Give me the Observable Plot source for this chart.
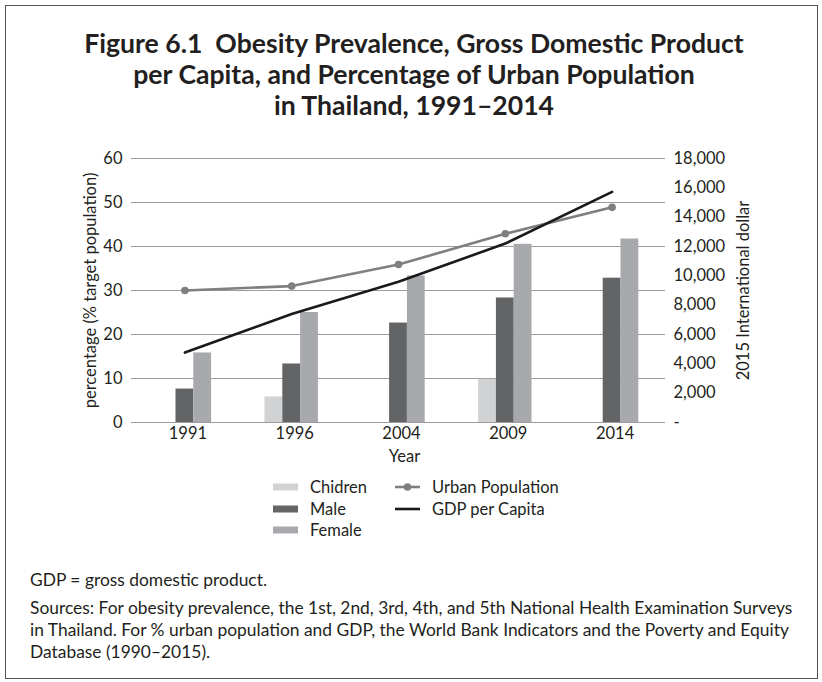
<!DOCTYPE html>
<html>
<head>
<meta charset="utf-8">
<script src="https://cdn.jsdelivr.net/npm/d3@7"></script>
<script src="https://cdn.jsdelivr.net/npm/@observablehq/plot@0.6"></script>
<style>
  html, body { margin: 0; padding: 0; background: #fff; }
  body { width: 822px; height: 682px; position: relative; overflow: hidden; font-family: Lato, sans-serif; color: #231f20; }
  #frame { position: absolute; left: 5px; top: 5px; width: 813px; height: 674px; border: 1.5px solid #555; box-sizing: border-box; }
  #title { position: absolute; left: 0; width: 828px; top: 28px; text-align: center; font-weight: 700; font-size: 26.6px; line-height: 31px; white-space: nowrap; }
  #chart { position: absolute; left: 0; top: 130px; }
  #legend { position: absolute; left: 0; top: 470px; }
  .note { position: absolute; left: 30px; font-size: 17.4px; line-height: 22px; white-space: nowrap; }
</style>
</head>
<body>
<div id="frame"></div>
<div id="title">Figure 6.1&nbsp; Obesity Prevalence, Gross Domestic Product<br>per Capita, and Percentage of Urban Population<br>in Thailand, 1991–2014</div>
<div id="chart"></div>
<div id="legend"></div>
<div class="note" style="top:569px">GDP = gross domestic product.</div>
<div class="note" style="top:597px">Sources: For obesity prevalence, the 1st, 2nd, 3rd, 4th, and 5th National Health Examination Surveys<br>in Thailand. For % urban population and GDP, the World Bank Indicators and the Poverty and Equity<br>Database (1990–2015).</div>
<script>
// ---- data ----
const years = ["1991", "1996", "2004", "2009", "2014"];
const seriesNames = ["Chidren", "Male", "Female"];
const childrenObesity = [null, 5.8, null, 9.8, null];
const maleObesity = [7.6, 13.3, 22.6, 28.3, 32.8];
const femaleObesity = [15.8, 25.0, 33.3, 40.5, 41.7];
const urbanPopulation = [30.0, 31.0, 35.9, 42.9, 48.9];
const gdpPerCapita = [4770, 7400, 9600, 12200, 15720];
const leftTicks = [0, 10, 20, 30, 40, 50, 60];
const rightTicks = [0, 2000, 4000, 6000, 8000, 10000, 12000, 14000, 16000, 18000];

// ---- styling ----
const seriesColors = ["#d1d2d3", "#636466", "#a7a9ac"];
const urbanColor = "#7f7f80";
const gdpColor = "#1a1a1a";
const gridColor = "#9c9c9c";
const ratio = rightTicks[rightTicks.length - 1] / leftTicks[leftTicks.length - 1]; // dollars per percentage unit

const seriesValues = [childrenObesity, maleObesity, femaleObesity];
const bars = [];
seriesValues.forEach((vals, k) => vals.forEach((v, i) => {
  if (v != null) bars.push({i, k, series: seriesNames[k], value: v});
}));
const groupStart = 0.25, barStep = 1 / 6;   // bars fill the middle half of each year band
const points = years.map((y, i) => ({i, year: y, urban: urbanPopulation[i], gdp: gdpPerCapita[i]}));

const chart = Plot.plot({
  width: 822,
  height: 340,
  marginLeft: 131,
  marginRight: 157,
  marginTop: 28,
  marginBottom: 48,
  style: {fontFamily: "Lato, sans-serif", fontSize: "16.5px", color: "#231f20", background: "transparent", overflow: "visible"},
  x: {type: "linear", domain: [0, years.length], axis: null},
  y: {domain: [0, 60], axis: null},
  color: {domain: seriesNames, range: seriesColors},
  marks: [
    Plot.gridY(leftTicks, {stroke: gridColor, strokeOpacity: 1, strokeWidth: 1.2}),
    Plot.rectY(bars, {
      x1: d => d.i + groupStart + d.k * barStep,
      x2: d => d.i + groupStart + (d.k + 1) * barStep,
      y1: 0, y2: "value", fill: "series"
    }),
    Plot.line(points, {x: d => d.i + 0.5, y: "urban", stroke: urbanColor, strokeWidth: 2.6}),
    Plot.dot(points, {x: d => d.i + 0.5, y: "urban", r: 3.8, fill: urbanColor, stroke: "none"}),
    Plot.line(points, {x: d => d.i + 0.5, y: d => d.gdp / ratio, stroke: gdpColor, strokeWidth: 2.6}),
    Plot.axisY(leftTicks, {anchor: "left", tickSize: 0, tickPadding: 9, label: null}),
    Plot.axisY(rightTicks.map(t => t / ratio), {
      anchor: "right", tickSize: 0, tickPadding: 8, label: null,
      tickFormat: d => d === 0 ? "-" : d3.format(",")(Math.round(d * ratio))
    }),
    Plot.axisX(years.map((_, i) => i + 0.5), {
      anchor: "bottom", tickSize: 0, tickPadding: 5, label: null, dx: 3,
      tickFormat: d => years[Math.floor(d)]
    }),
    Plot.text(["percentage (% target population)"], {frameAnchor: "left", textAnchor: "middle", lineAnchor: "middle", rotate: -90, dx: -41, text: d => d}),
    Plot.text(["2015 International dollar"], {frameAnchor: "right", textAnchor: "middle", lineAnchor: "middle", rotate: -90, dx: 78, text: d => d}),
    Plot.text(["Year"], {frameAnchor: "bottom", lineAnchor: "middle", dy: 34, dx: 6, text: d => d})
  ]
});
document.getElementById("chart").appendChild(chart);

// ---- legend ----
const ns = "http://www.w3.org/2000/svg";
const lg = document.createElementNS(ns, "svg");
lg.setAttribute("width", 822); lg.setAttribute("height", 80);
lg.style.fontFamily = "Lato, sans-serif"; lg.style.fontSize = "16.5px";
function el(tag, attrs, text) {
  const e = document.createElementNS(ns, tag);
  for (const k in attrs) e.setAttribute(k, attrs[k]);
  if (text) e.textContent = text;
  lg.appendChild(e); return e;
}
const rowY = [17, 39, 60];
seriesNames.forEach((s, k) => {
  el("rect", {x: 273, y: rowY[k] - 3.5, width: 25, height: 7, fill: seriesColors[k]});
  el("text", {x: 310, y: rowY[k], dy: "0.35em", fill: "#231f20"}, s);
});
el("line", {x1: 395, x2: 420, y1: rowY[0], y2: rowY[0], stroke: urbanColor, "stroke-width": 2.6});
el("circle", {cx: 407.5, cy: rowY[0], r: 3.8, fill: urbanColor});
el("text", {x: 432, y: rowY[0], dy: "0.35em", fill: "#231f20"}, "Urban Population");
el("line", {x1: 395, x2: 420, y1: rowY[1], y2: rowY[1], stroke: gdpColor, "stroke-width": 2.6});
el("text", {x: 432, y: rowY[1], dy: "0.35em", fill: "#231f20"}, "GDP per Capita");
document.getElementById("legend").appendChild(lg);
</script>
</body>
</html>
